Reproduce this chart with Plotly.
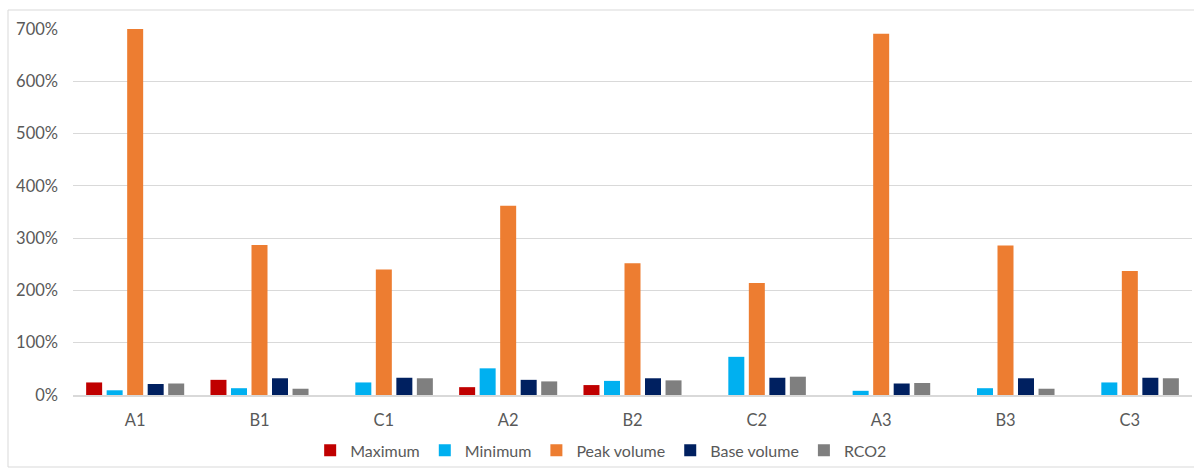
import plotly.graph_objects as go

categories = ["A1", "B1", "C1", "A2", "B2", "C2", "A3", "B3", "C3"]
maximum = [0.24, 0.29, 0.0, 0.15, 0.19, 0.0, 0.0, 0.0, 0.0]
minimum = [0.09, 0.13, 0.24, 0.51, 0.27, 0.73, 0.08, 0.13, 0.24]
peak_volume = [7.00, 2.87, 2.40, 3.62, 2.52, 2.14, 6.91, 2.86, 2.37]
base_volume = [0.21, 0.32, 0.33, 0.29, 0.32, 0.33, 0.22, 0.32, 0.33]
rco2 = [0.22, 0.12, 0.32, 0.26, 0.28, 0.35, 0.23, 0.12, 0.32]

series = [
    ("Maximum", maximum, "#C00000"),
    ("Minimum", minimum, "#00B0F0"),
    ("Peak volume", peak_volume, "#ED7D31"),
    ("Base volume", base_volume, "#002060"),
    ("RCO2", rco2, "#7F7F7F"),
]

fig = go.Figure()
for name, vals, color in series:
    fig.add_trace(go.Bar(x=categories, y=vals, name=name,
                         marker=dict(color=color, line=dict(width=0))))

font = "Lato, 'Open Sans', sans-serif"
fig.update_layout(
    width=1194, height=468,
    margin=dict(l=73, r=2, t=29, b=73, autoexpand=False),
    paper_bgcolor="white", plot_bgcolor="white",
    barmode="group", bargap=0.175, bargroupgap=0.22,
    font=dict(family=font, size=16.5, color="#595959"),
    legend=dict(orientation="h", x=0.472, xanchor="center", y=-0.105, yanchor="top",
                font=dict(size=16, color="#595959"), itemwidth=30,
                bgcolor="rgba(0,0,0,0)", traceorder="normal"),
    showlegend=True,
)
fig.update_yaxes(range=[0, 7], dtick=1, tickformat=".0%", showgrid=True,
                 gridcolor="#D9D9D9", gridwidth=1, zeroline=False,
                 showline=False, ticklabelstandoff=14, fixedrange=True)
fig.update_xaxes(showgrid=False, showline=True, linecolor="#D9D9D9", linewidth=1.5,
                 ticks="", ticklabelstandoff=9)
fig.add_shape(type="rect", xref="paper", yref="paper",
              x0=(8 - 73) / 1119, x1=(1200 - 73) / 1119,
              y0=(395 - 467) / 366, y1=(395 - 10) / 366,
              line=dict(color="#D9D9D9", width=1), fillcolor="rgba(0,0,0,0)",
              layer="below")
fig.write_html("out.html")
